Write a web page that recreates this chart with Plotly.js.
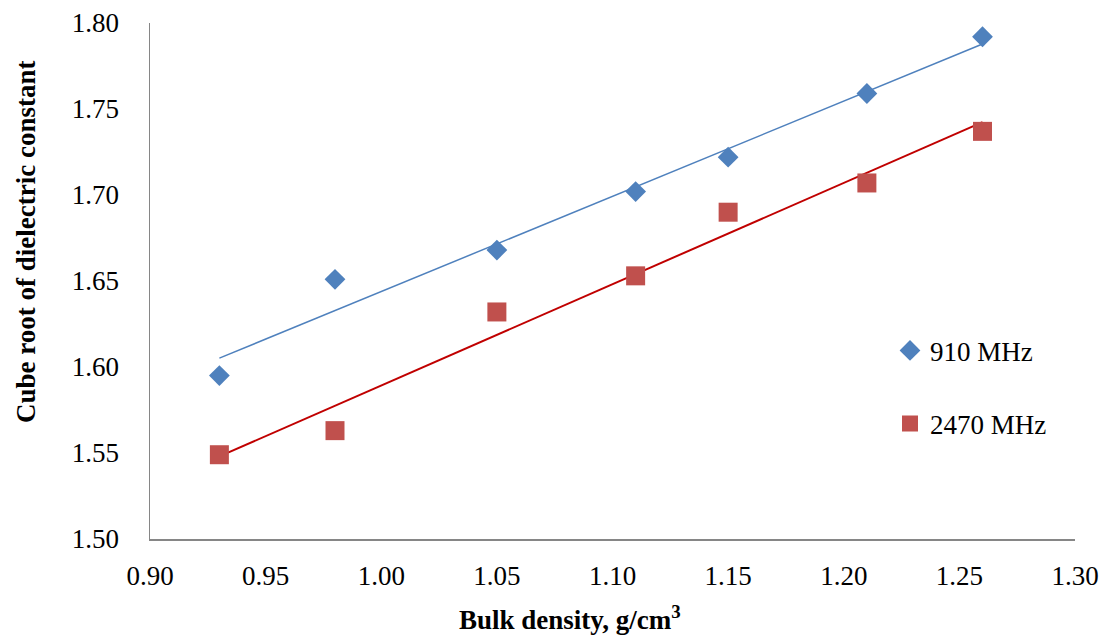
<!DOCTYPE html>
<html>
<head>
<meta charset="utf-8">
<script src="https://cdn.plot.ly/plotly-3.0.1.min.js"></script>
<style>html,body{margin:0;padding:0;background:#fff;}#chart{width:1118px;height:639px;}</style>
</head>
<body>
<div id="chart"></div>
<script>
const bulkDensity = [0.93, 0.98, 1.05, 1.11, 1.15, 1.21, 1.26];
const cubeRoot910 = [1.595, 1.651, 1.668, 1.702, 1.722, 1.759, 1.792];
const cubeRoot2470 = [1.549, 1.563, 1.632, 1.653, 1.690, 1.707, 1.737];
const seriesNames = ['910 MHz', '2470 MHz'];
const xTicks = [0.90, 0.95, 1.00, 1.05, 1.10, 1.15, 1.20, 1.25, 1.30];
const yTicks = [1.50, 1.55, 1.60, 1.65, 1.70, 1.75, 1.80];

function linearFit(xs, ys) {
  const n = xs.length;
  const mx = xs.reduce((a, b) => a + b, 0) / n;
  const my = ys.reduce((a, b) => a + b, 0) / n;
  let sxy = 0, sxx = 0;
  for (let i = 0; i < n; i++) { sxy += (xs[i] - mx) * (ys[i] - my); sxx += (xs[i] - mx) ** 2; }
  const b = sxy / sxx, a = my - b * mx;
  const x0 = Math.min(...xs), x1 = Math.max(...xs);
  return { x: [x0, x1], y: [a + b * x0, a + b * x1] };
}
const fit910 = linearFit(bulkDensity, cubeRoot910);
const fit2470 = linearFit(bulkDensity, cubeRoot2470);

const font = '"Liberation Serif", "Times New Roman", serif';
const fs = 27;
const traces = [
  { x: fit910.x, y: fit910.y, mode: 'lines', line: { color: '#4F81BD', width: 1.5 }, showlegend: false, hoverinfo: 'skip' },
  { x: fit2470.x, y: fit2470.y, mode: 'lines', line: { color: '#C00000', width: 2 }, showlegend: false, hoverinfo: 'skip' },
  { x: bulkDensity, y: cubeRoot910, name: seriesNames[0], legendgroup: 'a', mode: 'markers', marker: { symbol: 'diamond', size: 16, color: '#4F81BD' } },
  { x: bulkDensity, y: cubeRoot2470, name: seriesNames[1], legendgroup: 'b', mode: 'markers', marker: { symbol: 'square', size: 19, color: '#C0504D' } }
];

const layout = {
  width: 1118, height: 639,
  margin: { l: 150, r: 43, t: 23, b: 100 },
  paper_bgcolor: '#fff', plot_bgcolor: '#fff',
  font: { family: font, size: fs, color: '#000' },
  showlegend: true,
  legend: { x: 0.80, y: 0.412, xanchor: 'left', yanchor: 'top', tracegroupgap: 35, traceorder: 'grouped',
            font: { family: font, size: fs, color: '#000' }, bgcolor: 'rgba(0,0,0,0)', itemwidth: 30 },
  xaxis: {
    range: [0.90, 1.30], tickvals: xTicks, ticktext: xTicks.map(v => v.toFixed(2)),
    showgrid: false, zeroline: false, showline: true, linecolor: '#868686', linewidth: 1.5,
    ticks: '', ticklabelstandoff: 12, tickfont: { family: font, size: fs }
  },
  yaxis: {
    range: [1.50, 1.80], tickvals: yTicks, ticktext: yTicks.map(v => v.toFixed(2)),
    showgrid: false, zeroline: false, showline: true, linecolor: '#868686', linewidth: 1.5,
    ticks: '', ticklabelstandoff: 24, tickfont: { family: font, size: fs }
  },
  annotations: [
    { text: '<b>Bulk density, g/cm<sup>3</sup></b>', xref: 'paper', yref: 'paper', x: (570 - 150) / 925, y: -(618 - 539) / 516,
      xanchor: 'center', yanchor: 'middle', showarrow: false, font: { family: font, size: fs, color: '#000' } },
    { text: '<b>Cube root of dielectric constant</b>', xref: 'paper', yref: 'paper', x: -(150 - 26) / 925, y: (539 - 242) / 516,
      xanchor: 'center', yanchor: 'middle', textangle: -90, showarrow: false, font: { family: font, size: fs, color: '#000' } }
  ]
};
Plotly.newPlot('chart', traces, layout, { displayModeBar: false, staticPlot: true });
</script>
</body>
</html>
